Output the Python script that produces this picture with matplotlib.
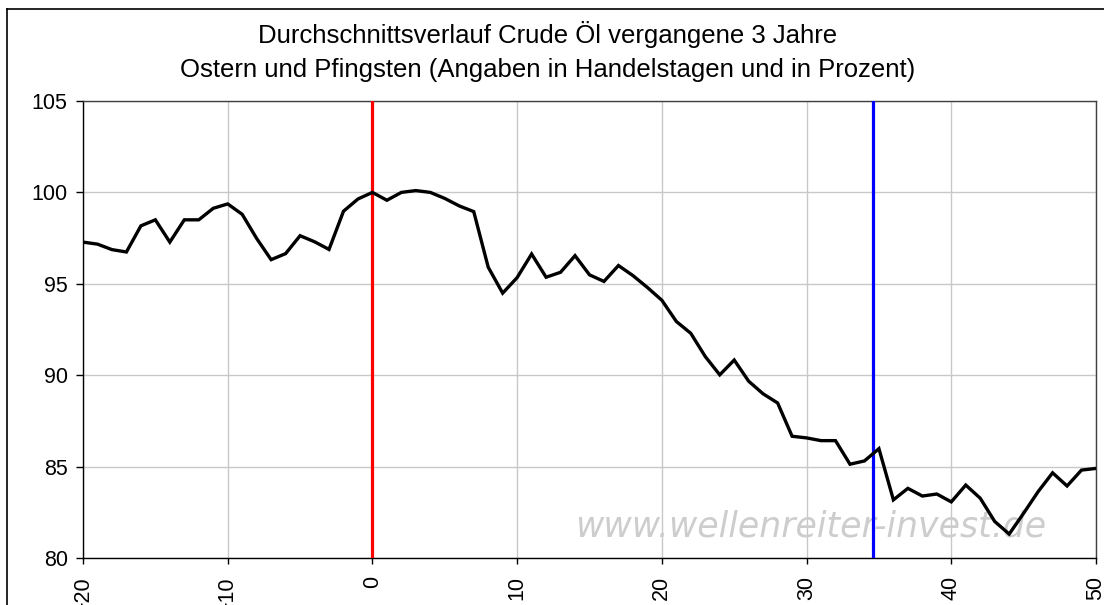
import matplotlib
matplotlib.use("Agg")
import matplotlib.pyplot as plt
from matplotlib.lines import Line2D

# ---- data ----
days = list(range(-20, 51))
values = [97.28, 97.17, 96.87, 96.74, 98.17, 98.50, 97.28, 98.50, 98.50, 99.13,
          99.37, 98.80, 97.48, 96.32, 96.65, 97.63, 97.30, 96.88, 98.97, 99.64,
          100.0, 99.57, 100.0, 100.1, 100.0, 99.67, 99.26, 98.95, 95.91, 94.49,
          95.34, 96.63, 95.36, 95.63, 96.54, 95.49, 95.13, 96.00, 95.45, 94.80,
          94.10, 92.94, 92.29, 91.02, 90.02, 90.83, 89.67, 88.98, 88.48, 86.66,
          86.57, 86.42, 86.42, 85.13, 85.31, 85.98, 83.18, 83.81, 83.39, 83.50,
          83.07, 83.99, 83.27, 82.00, 81.31, 82.45, 83.63, 84.66, 83.94, 84.81,
          84.90]
easter_day = 0
pentecost_day = 34.6
x_ticks = [-20, -10, 0, 10, 20, 30, 40, 50]
y_ticks = [80, 85, 90, 95, 100, 105]
title_line1 = "Durchschnittsverlauf Crude Öl vergangene 3 Jahre"
title_line2 = "Ostern und Pfingsten (Angaben in Handelstagen und in Prozent)"
watermark = "www.wellenreiter-invest.de"

plt.rcParams['font.family'] = ['Liberation Sans', 'DejaVu Sans']

W, H = 1104, 605
fig = plt.figure(figsize=(W / 100, H / 100), dpi=100)
fig.patch.set_facecolor('white')

left, right, top, bottom = 83, 1096, 101, 558
ax = fig.add_axes([left / W, 1 - bottom / H, (right - left) / W, (bottom - top) / H])

ax.set_xlim(-20, 50)
ax.set_ylim(80, 105)
ax.set_xticks(x_ticks)
ax.set_yticks(y_ticks)
ax.grid(True, color='#c8c8c8', linewidth=1.0, zorder=0)
ax.set_axisbelow(True)

ax.tick_params(axis='y', direction='out', length=5, width=1, pad=6, labelsize=15.5, colors='black')
ax.tick_params(axis='x', direction='out', length=4, width=1, pad=9, labelsize=15.5, colors='black',
               labelrotation=90)
for s in ax.spines.values():
    s.set_color('black')
    s.set_linewidth(1.0)
for s in ('top', 'right'):
    ax.spines[s].set_color('#404040')

ax.text(30.25, 81.75, watermark, fontsize=25, style='italic', family='DejaVu Sans',
        color='#cdcdcd', ha='center', va='center', zorder=1)

ax.axvline(easter_day, color='#ff0000', linewidth=2.3, zorder=3)
ax.axvline(pentecost_day, color='#0000ff', linewidth=2.3, zorder=3)
ax.plot(days, values, color='black', linewidth=2.4, zorder=4, solid_joinstyle='miter')

fig.text(548 / W, 1 - 43.3 / H, title_line1, ha='center', va='baseline', fontsize=18.5)
fig.text(548 / W, 1 - 77.3 / H, title_line2, ha='center', va='baseline', fontsize=18.5)

# outer chart border (left and top visible)
fig.add_artist(Line2D([7 / W, 7 / W], [0, 1 - 9.3 / H], transform=fig.transFigure,
                      color='black', linewidth=1.2))
fig.add_artist(Line2D([7 / W, 1], [1 - 9.3 / H, 1 - 9.3 / H], transform=fig.transFigure,
                      color='black', linewidth=1.2))

fig.savefig('out.png', dpi=100)
